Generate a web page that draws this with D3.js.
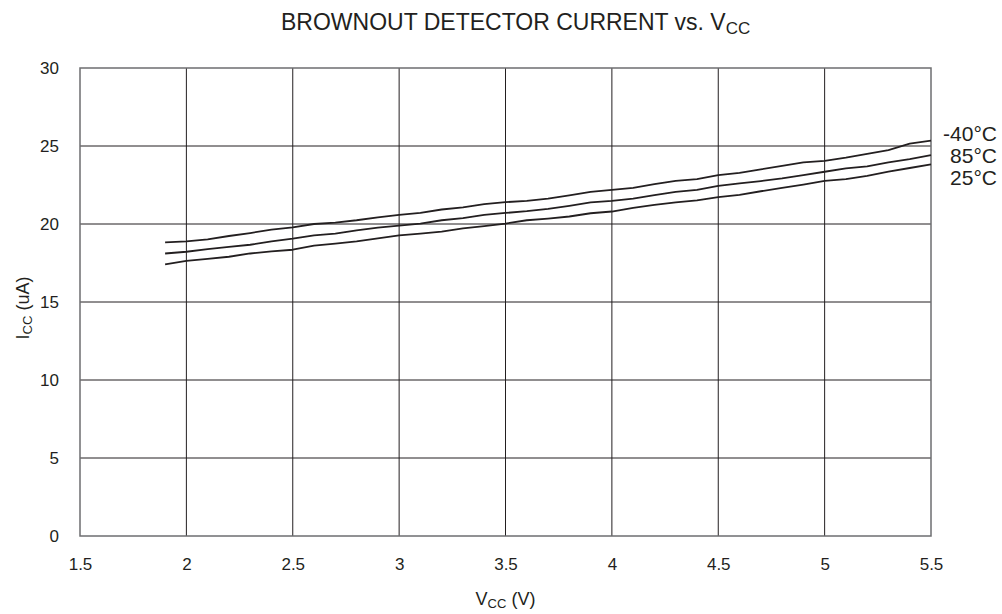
<!DOCTYPE html>
<html>
<head>
<meta charset="utf-8">
<script src="https://cdn.jsdelivr.net/npm/d3@7"></script>
<style>
  body { margin: 0; background: #fff; }
  text { font-family: "Liberation Sans", Arial, sans-serif; fill: #231f20; }
</style>
</head>
<body>
<svg width="1002" height="614"></svg>
<script>
// supply voltage steps (V)
var vcc = [1.9, 2.0, 2.1, 2.2, 2.3, 2.4, 2.5, 2.6, 2.7, 2.8, 2.9, 3.0, 3.1, 3.2, 3.3, 3.4, 3.5, 3.6, 3.7,
  3.8, 3.9, 4.0, 4.1, 4.2, 4.3, 4.4, 4.5, 4.6, 4.7, 4.8, 4.9, 5.0, 5.1, 5.2, 5.3, 5.4, 5.5]
// Icc (uA) per temperature
var iccM40 = [18.82, 18.89, 19.02, 19.23, 19.42, 19.64, 19.79, 20.0, 20.09, 20.24, 20.43, 20.58, 20.71,
  20.93, 21.06, 21.27, 21.40, 21.48, 21.63, 21.83, 22.06, 22.19, 22.32, 22.55, 22.77, 22.88, 23.13,
  23.28, 23.50, 23.73, 23.95, 24.05, 24.25, 24.49, 24.74, 25.15, 25.34]
var icc85 = [18.11, 18.22, 18.39, 18.54, 18.67, 18.89, 19.06, 19.27, 19.38, 19.59, 19.77, 19.90, 20.03,
  20.24, 20.37, 20.58, 20.71, 20.82, 20.97, 21.16, 21.38, 21.48, 21.63, 21.85, 22.06, 22.19, 22.45,
  22.60, 22.75, 22.92, 23.13, 23.35, 23.56, 23.69, 23.95, 24.16, 24.42]
var icc25 = [17.41, 17.64, 17.77, 17.90, 18.11, 18.24, 18.35, 18.61, 18.74, 18.89, 19.08, 19.27, 19.38,
  19.51, 19.72, 19.87, 20.03, 20.24, 20.35, 20.48, 20.69, 20.80, 21.03, 21.22, 21.38, 21.51, 21.72,
  21.87, 22.10, 22.32, 22.53, 22.77, 22.88, 23.09, 23.35, 23.59, 23.82]
var seriesNames = ['-40°C', '85°C', '25°C']
var xTicks = [1.5, 2, 2.5, 3, 3.5, 4, 4.5, 5, 5.5]
var yTicks = [0, 5, 10, 15, 20, 25, 30]

var svg = d3.select('svg')
var margin = { top: 68, right: 71, bottom: 78, left: 80 }
var width = Number(svg.attr('width')) - margin.left - margin.right
var height = Number(svg.attr('height')) - margin.top - margin.bottom
var g = svg.append('g')
  .attr('transform', 'translate(' + margin.left + ',' + margin.top + ')')

var x = d3.scaleLinear().domain([1.5, 5.5]).range([0, width])
var y = d3.scaleLinear().domain([0, 30]).range([height, 0])

// grid
g.append('g')
  .selectAll('line')
  .data(xTicks.slice(1, -1))
  .enter().append('line')
  .attr('x1', d => x(d)).attr('x2', d => x(d))
  .attr('y1', 0).attr('y2', height)
  .attr('stroke', '#231f20').attr('stroke-width', 1)

g.append('g')
  .selectAll('line')
  .data(yTicks.slice(1, -1))
  .enter().append('line')
  .attr('x1', 0).attr('x2', width)
  .attr('y1', d => y(d)).attr('y2', d => y(d))
  .attr('stroke', '#231f20').attr('stroke-width', 1)

g.append('rect')
  .attr('width', width).attr('height', height)
  .attr('fill', 'none').attr('stroke', '#6d6e70').attr('stroke-width', 1.5)

// axes labels
g.append('g')
  .attr('transform', 'translate(0,' + height + ')')
  .call(d3.axisBottom(x).tickValues(xTicks).tickSize(0).tickPadding(22).tickFormat(d3.format('')))
  .call(a => a.select('.domain').remove())
  .selectAll('text')
  .attr('font-size', 17).attr('fill', '#231f20')

g.append('g')
  .call(d3.axisLeft(y).tickValues(yTicks).tickSize(0).tickPadding(21))
  .call(a => a.select('.domain').remove())
  .selectAll('text')
  .attr('font-size', 17).attr('fill', '#231f20')
g.selectAll('.tick').attr('font-family', null).attr('font-size', null)

var line = d3.line()
  .x((d, i) => x(vcc[i]))
  .y(d => y(d))

var series = [iccM40, icc85, icc25]
g.selectAll('.curve')
  .data(series)
  .enter().append('path')
  .attr('class', 'curve')
  .attr('fill', 'none')
  .attr('stroke', '#231f20')
  .attr('stroke-width', 1.8)
  .attr('stroke-linejoin', 'round')
  .attr('d', line)

// temperature labels stacked at right end
var midEnd = y(icc85[icc85.length - 1])
g.selectAll('.tlabel')
  .data(seriesNames)
  .enter().append('text')
  .attr('class', 'tlabel')
  .attr('x', width + 66)
  .attr('y', (d, i) => midEnd + 1 + (i - 1) * 22)
  .attr('dy', '0.35em')
  .attr('text-anchor', 'end')
  .attr('font-size', 21)
  .text(d => d)

// title
var title = svg.append('text')
  .attr('x', 281).attr('y', 30)
  .attr('font-size', 23)
title.append('tspan').text('BROWNOUT DETECTOR CURRENT vs. V')
title.append('tspan').attr('font-size', 17).attr('dy', 4).text('CC')

// x label
var xl = svg.append('text')
  .attr('x', margin.left + width / 2).attr('y', 605)
  .attr('text-anchor', 'middle')
  .attr('font-size', 18)
xl.append('tspan').text('V')
xl.append('tspan').attr('font-size', 13).attr('dy', 3).text('CC')
xl.append('tspan').attr('dy', -3).text(' (V)')

// y label
var yl = svg.append('text')
  .attr('transform', 'translate(29,308) rotate(-90)')
  .attr('text-anchor', 'middle')
  .attr('font-size', 18)
yl.append('tspan').text('I')
yl.append('tspan').attr('font-size', 13).attr('dy', 3).text('CC')
yl.append('tspan').attr('dy', -3).text(' (uA)')
</script>
</body>
</html>
